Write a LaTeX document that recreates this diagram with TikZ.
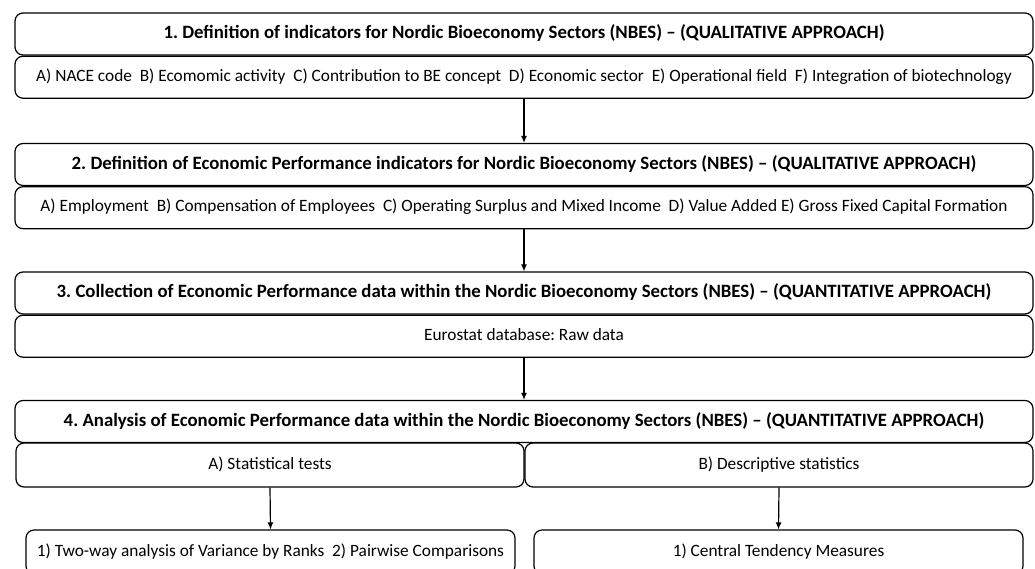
\documentclass[tikz,border=0pt]{standalone}
\usepackage{fontspec}
\setmainfont{Carlito}
\usepackage{tikz}
\usetikzlibrary{positioning,arrows.meta}
\frenchspacing

\tikzset{
  stepbox/.style={draw, rounded corners=8pt, line width=1.2pt, minimum width=1018pt, minimum height=42pt, inner sep=0pt, text height=13pt, text depth=4pt, font=\fontsize{18.8}{20}\selectfont\bfseries},
  itembox/.style={draw, rounded corners=8pt, line width=1.2pt, minimum width=1018pt, minimum height=42pt, inner sep=0pt, text height=12pt, text depth=4pt, font=\fontsize{17.3}{19}\selectfont},
  halfbox/.style={itembox, minimum width=508pt, minimum height=44pt},
  leafbox/.style={itembox, minimum width=489pt, minimum height=44pt},
  flow/.style={-{Latex[length=7pt,width=6pt]}, line width=1.2pt}
}

\begin{document}
\begin{tikzpicture}[x=1pt,y=-1pt]
\useasboundingbox (0,0) rectangle (1035,568);
\clip (0,0) rectangle (1035,568);
% step 1
\node[stepbox] (t1) at (524,34) {1. Definition of indicators for Nordic Bioeconomy Sectors (NBES) -- (QUALITATIVE APPROACH)};
\node[itembox, below=0pt of t1] (s1) {A) NACE code\ \ B) Ecomomic activity\ \ C) Contribution to BE concept\ \ D) Economic sector\ \ E) Operational field\ \ F) Integration of biotechnology};
% step 2
\node[stepbox] (t2) at (524,164.5) {2. Definition of Economic Performance indicators for Nordic Bioeconomy Sectors (NBES) -- (QUALITATIVE APPROACH)};
\node[itembox, below=0pt of t2] (s2) {A) Employment\ \ B) Compensation of Employees\ \ C) Operating Surplus and Mixed Income\ \ D) Value Added E) Gross Fixed Capital Formation};
% step 3
\node[stepbox] (t3) at (524,293) {3. Collection of Economic Performance data within the Nordic Bioeconomy Sectors (NBES) -- (QUANTITATIVE APPROACH)};
\node[itembox, below=0pt of t3] (s3) {Eurostat database: Raw data};
% step 4
\node[stepbox] (t4) at (524,421.5) {4. Analysis of Economic Performance data within the Nordic Bioeconomy Sectors (NBES) -- (QUANTITATIVE APPROACH)};
\node[halfbox] (s4a) at (270,465) {A) Statistical tests};
\node[halfbox] (s4b) at (779,465) {B) Descriptive statistics};
\node[leafbox] (b1) at (270.5,552) {1) Two-way analysis of Variance by Ranks\ \ 2) Pairwise Comparisons};
\node[leafbox] (b2) at (778.5,552) {1) Central Tendency Measures};

\draw[flow] (s1.south) -- (t2.north);
\draw[flow] (s2.south) -- (t3.north);
\draw[flow] (s3.south) -- (t4.north);
\draw[flow] (s4a.south) -- (b1.north);
\draw[flow] (s4b.south) -- (b2.north);
\end{tikzpicture}
\end{document}
